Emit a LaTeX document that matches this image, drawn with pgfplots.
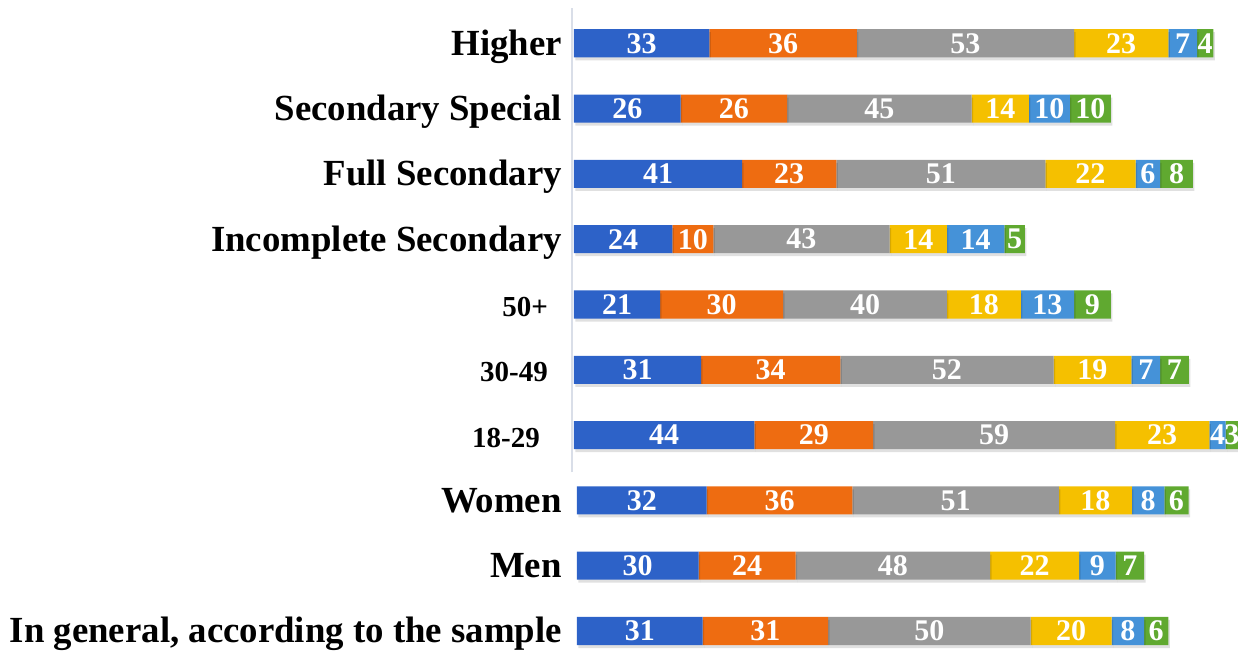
\documentclass[border=0pt]{standalone}
\usepackage{fontspec}
\setmainfont{Liberation Serif}
\usepackage{pgfplots}
\usepackage{pgfplotstable}
\pgfplotsset{compat=1.18}

% series colours
\definecolor{cblue}{HTML}{2D62C8}
\definecolor{corange}{HTML}{EE6C11}
\definecolor{cgray}{HTML}{989898}
\definecolor{cyellow}{HTML}{F5C000}
\definecolor{clblue}{HTML}{4592D8}
\definecolor{cgreen}{HTML}{60A930}
\definecolor{axisline}{HTML}{D9DEE8}

% education and age groups (rows 3 to 9, bottom to top)
\pgfplotstableread{
y a  b  c  d  e  f
3 44 29 59 23 4  3
4 31 34 52 19 7  7
5 21 30 40 18 13 9
6 24 10 43 14 14 5
7 41 23 51 22 6  8
8 26 26 45 14 10 10
9 33 36 53 23 7  4
}\groups

% whole sample and gender (rows 0 to 2)
\pgfplotstableread{
y a  b  c  d  e  f
0 31 31 50 20 8  6
1 30 24 48 22 9  7
2 32 36 51 18 8  6
}\overall

\pgfplotsset{
  stackbars/.style={
    scale only axis,
    height=653pt,
    xmin=0,
    ymin=-0.337, ymax=9.663,
    xbar stacked,
    bar width=0.43,
    axis line style={draw=none},
    xtick=\empty,
    major tick length=0pt,
    yticklabel style={font=\fontsize{36.8}{36.8}\selectfont\bfseries,
      anchor=base east, inner sep=0pt, xshift=-12pt, yshift=-12pt},
    clip=false,
    point meta=explicit,
    /pgf/number format/assume math mode=true,
    nodes near coords={\pgfmathprintnumber[fixed,precision=0]{\pgfplotspointmeta}},
    nodes near coords align=center,
    every node near coord/.append style={font=\fontsize{30}{30}\selectfont\bfseries,
      text=white, inner sep=0pt},
    every axis plot/.append style={draw=none,
      preaction={fill=black, fill opacity=0.12,
        transform canvas={xshift=1.5pt, yshift=-3pt}}},
  },
}

\newcommand\sixseries[1]{%
  \addplot[fill=cblue] table[x=a, y=y, meta=a] {#1};
  \addplot[fill=corange] table[x=b, y=y, meta=b] {#1};
  \addplot[fill=cgray] table[x=c, y=y, meta=c] {#1};
  \addplot[fill=cyellow] table[x=d, y=y, meta=d] {#1};
  \addplot[fill=clblue] table[x=e, y=y, meta=e] {#1};
  \addplot[fill=cgreen] table[x=f, y=y, meta=f] {#1};
}

\begin{document}
\begin{tikzpicture}
\begin{axis}[
  stackbars,
  width=664pt, xmax=162,
  ytick={3,...,9},
  yticklabels={
    {\fontsize{29}{29}\selectfont 18-29\rule{22pt}{0pt}},
    {\fontsize{29}{29}\selectfont 30-49\rule{14pt}{0pt}},
    {\fontsize{29}{29}\selectfont 50+\rule{14pt}{0pt}},
    Incomplete Secondary,
    Full Secondary,
    Secondary Special,
    Higher},
]
\sixseries{\groups}
\draw[axisline, line width=1.5pt] (axis cs:-0.5,2.43) -- (axis cs:-0.5,9.54);
\end{axis}
\begin{axis}[
  stackbars,
  at={(3pt,0pt)},
  width=661pt, xmax=163.2,
  ytick={0,1,2},
  yticklabels={
    {In general, according to the sample},
    Men,
    Women},
  yticklabel style={xshift=-3pt},
]
\sixseries{\overall}
\end{axis}
\pgfresetboundingbox
\path (-574pt,0pt) rectangle (664pt,653pt);
\end{tikzpicture}
\end{document}
